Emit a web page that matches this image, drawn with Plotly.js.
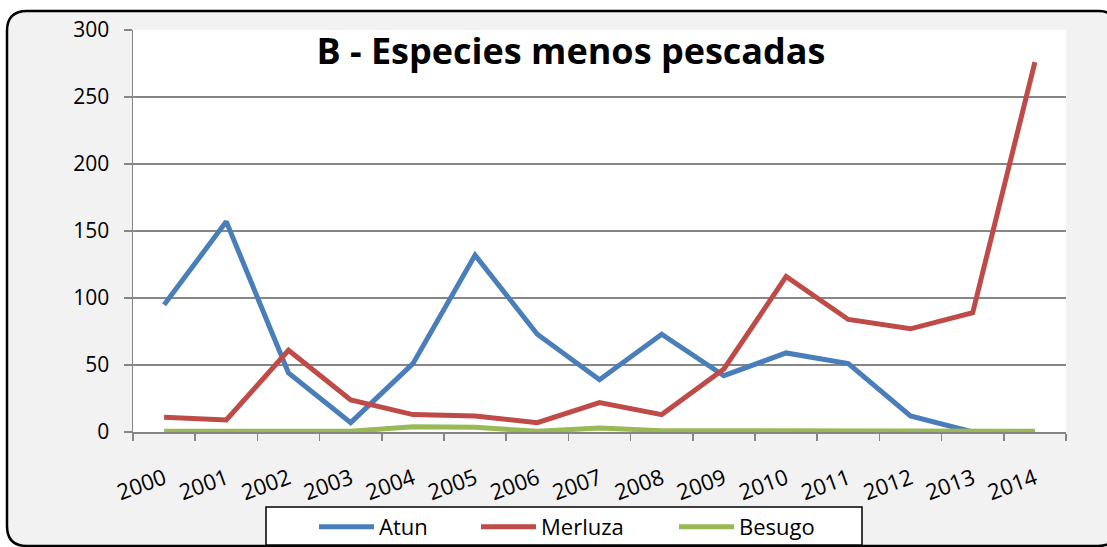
<!DOCTYPE html>
<html>
<head>
<meta charset="utf-8">
<script src="https://cdn.plot.ly/plotly-3.0.1.min.js"></script>
<style>html,body{margin:0;padding:0;background:#ffffff;}#chart{width:1107px;height:547px;}</style>
</head>
<body>
<div id="chart"></div>
<script>
// ---- data ----
const years = ['2000','2001','2002','2003','2004','2005','2006','2007','2008','2009','2010','2011','2012','2013','2014'];
const atun    = [95, 157, 44, 7, 51, 132, 73, 39, 73, 42, 59, 51, 12, 0, 0];
const merluza = [11, 9, 61, 24, 13, 12, 7, 22, 13, 47, 116, 84, 77, 89, 276];
const besugo  = [0.5, 0.5, 0.5, 0.5, 4, 3.5, 0.5, 3, 1, 1, 0.5, 0.3, 0.5, 0.5, 0.5];
const seriesNames = ['Atun', 'Merluza', 'Besugo'];
const chartTitle = 'B - Especies menos pescadas';
const yTicks = [0, 50, 100, 150, 200, 250, 300];

// ---- layout geometry ----
const W = 1107, H = 547;
const M = {l: 133, r: 41, t: 30, b: 115};
const PW = W - M.l - M.r, PH = H - M.t - M.b;
const px = x => (x - M.l) / PW;
const py = y => (H - M.b - y) / PH;
const cx = x => x / W;
const cy = y => 1 - y / H;

function roundRect(x0, y0, x1, y1, r) {
  return 'M' + px(x0 + r) + ',' + py(y0) +
    ' L' + px(x1 - r) + ',' + py(y0) +
    ' Q' + px(x1) + ',' + py(y0) + ' ' + px(x1) + ',' + py(y0 + r) +
    ' L' + px(x1) + ',' + py(y1 - r) +
    ' Q' + px(x1) + ',' + py(y1) + ' ' + px(x1 - r) + ',' + py(y1) +
    ' L' + px(x0 + r) + ',' + py(y1) +
    ' Q' + px(x0) + ',' + py(y1) + ' ' + px(x0) + ',' + py(y1 - r) +
    ' L' + px(x0) + ',' + py(y0 + r) +
    ' Q' + px(x0) + ',' + py(y0) + ' ' + px(x0 + r) + ',' + py(y0) + ' Z';
}

const colors = ['#4A7EBB', '#BE4B48', '#98B954'];
const values = [atun, merluza, besugo];
const legendIds = ['legend', 'legend2', 'legend3'];
const legendX = [314, 476, 674];

const traces = values.map((v, i) => ({
  type: 'scatter', mode: 'lines', x: years, y: v, name: seriesNames[i],
  line: {color: colors[i], width: 5, shape: 'linear'},
  legend: legendIds[i], hoverinfo: 'x+y+name'
}));

const font = 'Open Sans, Noto Sans, sans-serif';
const legendBase = i => ({
  orientation: 'h', x: cx(legendX[i]), xanchor: 'left', y: cy(527), yanchor: 'middle',
  xref: 'container', yref: 'container',
  bgcolor: 'rgba(0,0,0,0)', borderwidth: 0, itemwidth: 55,
  font: {family: font, size: 22, color: '#000000'}
});

const layout = {
  width: W, height: H,
  margin: M,
  paper_bgcolor: '#ffffff',
  plot_bgcolor: 'rgba(0,0,0,0)',
  showlegend: true,
  title: {
    text: '<b>' + chartTitle + '</b>',
    font: {family: font, size: 36, color: '#000000'},
    xref: 'paper', x: px(571), xanchor: 'center',
    yref: 'paper', y: py(51), yanchor: 'middle'
  },
  xaxis: {
    type: 'category', tickson: 'boundaries', ticks: 'outside', ticklen: 7, tickwidth: 1.5,
    range: [-0.5, years.length - 0.5], autorange: false,
    tickcolor: '#868686', showline: true, linecolor: '#868686', linewidth: 1.5,
    showgrid: false, tickangle: -20, ticklabelstandoff: 24, automargin: false,
    tickfont: {family: font, size: 22, color: '#000000'}, fixedrange: true
  },
  yaxis: {
    range: [0, 300], autorange: false, tickvals: yTicks, ticks: 'outside', ticklen: 8, tickwidth: 1.5,
    tickcolor: '#868686', showline: true, linecolor: '#868686', linewidth: 1.5,
    gridcolor: '#868686', gridwidth: 1.5, zeroline: false, automargin: false,
    ticklabelstandoff: 10,
    tickfont: {family: font, size: 21, color: '#000000'}, fixedrange: true
  },
  legend: legendBase(0), legend2: legendBase(1), legend3: legendBase(2),
  shapes: [
    {type: 'path', xref: 'paper', yref: 'paper', layer: 'below',
     path: roundRect(7, 11, 1118, 546, 20),
     fillcolor: '#F2F2F2', line: {color: '#000000', width: 2.5}},
    {type: 'rect', xref: 'paper', yref: 'paper', layer: 'below',
     x0: 0, x1: 1, y0: 0, y1: 1, fillcolor: '#FFFFFF', line: {width: 0}},
    {type: 'rect', xref: 'paper', yref: 'paper', layer: 'below',
     x0: px(266), x1: px(862), y0: py(507), y1: py(545),
     fillcolor: '#FFFFFF', line: {color: '#000000', width: 1.5}}
  ]
};

Plotly.newPlot('chart', traces, layout, {displayModeBar: false, staticPlot: true});
</script>
</body>
</html>
